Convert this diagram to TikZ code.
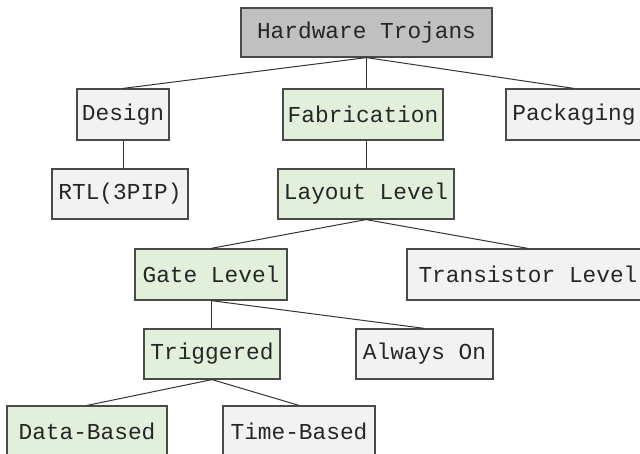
\documentclass[tikz,border=0pt]{standalone}
\usepackage{fontspec}
\setmonofont{Liberation Mono}
\definecolor{boxgray}{HTML}{F2F2F2}
\definecolor{boxgreen}{HTML}{E2EFDA}
\definecolor{boxroot}{HTML}{C0C0C0}
\definecolor{edgecol}{HTML}{4A4A4A}
\begin{document}
\begin{tikzpicture}[x=0.75pt,y=-0.75pt,
  tbox/.style={draw=edgecol,line width=0.9pt,inner sep=0pt,
    font=\ttfamily\fontsize{17.1pt}{20pt}\selectfont,text=black!85},
  graybox/.style={tbox,fill=boxgray},
  greenbox/.style={tbox,fill=boxgreen},
  rootbox/.style={tbox,fill=boxroot},
  sz/.style n args={2}{minimum width=#1*0.75pt,minimum height=#2*0.75pt},
  link/.style={draw=black!80,line width=0.75pt}]
\useasboundingbox (0,0) rectangle (640,454);
\node[rootbox,sz={251}{49}] (root) at (366.5,32.5) {Hardware Trojans};
\node[graybox,sz={92}{51}] (design) at (123,114.5) {Design};
\node[greenbox,sz={160}{51}] (fab) at (363,114.5) {Fabrication};
\node[graybox,sz={136}{51}] (pack) at (574,114.5) {Packaging};
\node[graybox,sz={136}{50}] (rtl) at (120,194) {RTL(3PIP)};
\node[greenbox,sz={176}{50}] (layout) at (366,194) {Layout Level};
\node[greenbox,sz={152}{51}] (gate) at (211,274.5) {Gate Level};
\node[graybox,sz={242}{51}] (trans) at (528,274.5) {Transistor Level};
\node[greenbox,sz={136}{50}] (trig) at (212,354) {Triggered};
\node[graybox,sz={137}{50}] (always) at (424.5,354) {Always On};
\node[greenbox,sz={160}{51}] (data) at (87,431.5) {Data-Based};
\node[graybox,sz={152}{51}] (time) at (299,431.5) {Time-Based};
\draw[link] (root.south) -- (design.north);
\draw[link] (root.south) -- (root.south |- fab.north);
\draw[link] (root.south) -- (pack.north);
\draw[link] (design.south) -- (design.south |- rtl.north);
\draw[link] (layout.north |- fab.south) -- (layout.north);
\draw[link] (layout.south) -- (gate.north);
\draw[link] (layout.south) -- (trans.north);
\draw[link] (gate.south) -- (gate.south |- trig.north);
\draw[link] (gate.south) -- (always.north);
\draw[link] (trig.south) -- (data.north);
\draw[link] (trig.south) -- (time.north);
\end{tikzpicture}
\end{document}
